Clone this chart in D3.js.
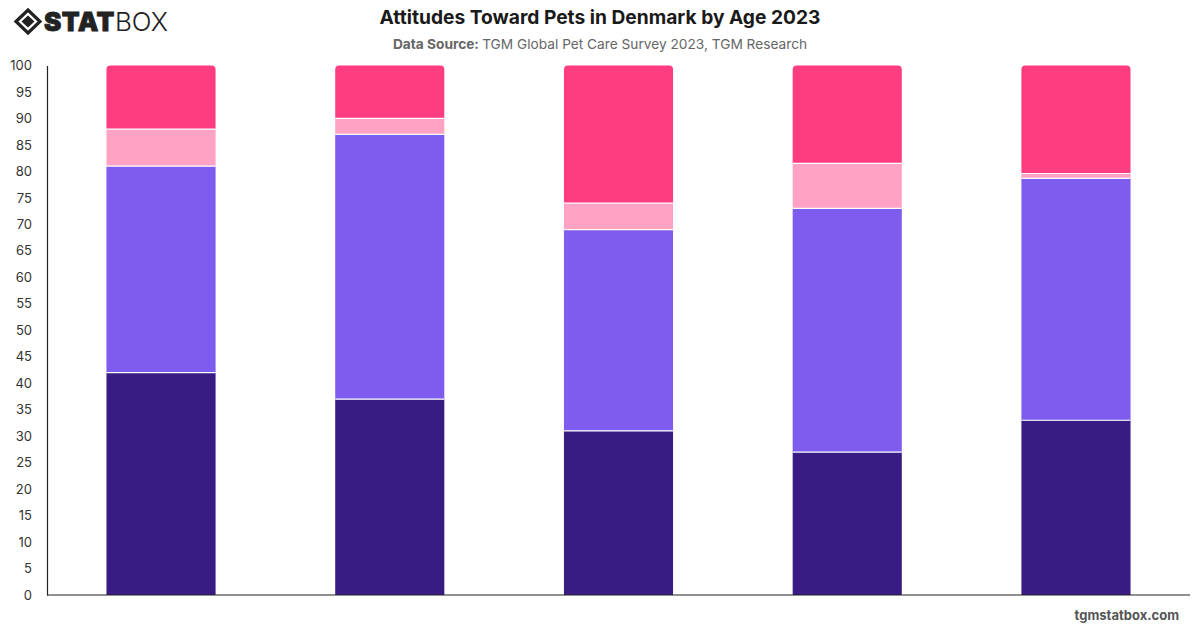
<html>
<head>
<title>Attitudes Toward Pets in Denmark by Age 2023</title>
<style>
  body { margin: 0; background: #fff; font-family: Inter, "Noto Sans", sans-serif; }
  svg { display: block; }
</style>
</head>
<body>
<script src="https://d3js.org/d3.v7.min.js"></script>
<script>
// age groups (no labels shown on the chart)
var categories = ["18-24", "25-34", "35-44", "45-54", "55+"];
var seriesNames = ["Series 1", "Series 2", "Series 3", "Series 4"];
var series1 = [42, 37, 31, 27, 33];
var series2 = [39, 50, 38, 46, 45.7];
var series3 = [7, 3, 5, 8.5, 0.9];
var series4 = [12, 10, 26, 18.5, 20.4];
var yTicks = [0, 5, 10, 15, 20, 25, 30, 35, 40, 45, 50, 55, 60, 65, 70, 75, 80, 85, 90, 95, 100];
var colors = ["#381b83", "#7e5cef", "#ffa2c3", "#fe3d80"];

var w = 1200, h = 628;
var margin = { top: 65.5, right: 10, bottom: 33, left: 47 };

var svg = d3.select("body").append("svg").attr("width", w).attr("height", h);

// rows for the stack
var rows = categories.map(function (c, i) {
    return { cat: c, s0: series1[i], s1: series2[i], s2: series3[i], s3: series4[i] };
});
var stack = d3.stack().keys(["s0", "s1", "s2", "s3"])(rows);

var x = d3.scaleBand().domain(categories)
    .range([margin.left, w - margin.right])
    .paddingInner(0.523).paddingOuter(0.26);
var y = d3.scaleLinear().domain([0, 100]).range([h - margin.bottom, margin.top]);

// bars
var layers = svg.append("g").selectAll("g").data(stack).enter().append("g")
    .attr("fill", function (d, i) { return colors[i]; });

layers.each(function (layer, li) {
    var g = d3.select(this);
    layer.forEach(function (d) {
        var x0 = x(d.data.cat), bw = x.bandwidth();
        var yTop = y(d[1]), yBot = y(d[0]);
        if (li === stack.length - 1) {
            // rounded top corners on last segment
            var r = 4;
            var p = "M" + x0 + "," + yBot +
                "V" + (yTop + r) +
                "Q" + x0 + "," + yTop + " " + (x0 + r) + "," + yTop +
                "H" + (x0 + bw - r) +
                "Q" + (x0 + bw) + "," + yTop + " " + (x0 + bw) + "," + (yTop + r) +
                "V" + yBot + "Z";
            g.append("path").attr("d", p);
        } else {
            g.append("rect")
                .attr("x", x0).attr("y", yTop)
                .attr("width", bw).attr("height", yBot - yTop);
        }
    });
});

// white separators between segments
var sepG = svg.append("g");
stack.slice(0, stack.length - 1).forEach(function (layer) {
    layer.forEach(function (d) {
        sepG.append("line")
            .attr("x1", x(d.data.cat)).attr("x2", x(d.data.cat) + x.bandwidth())
            .attr("y1", y(d[1])).attr("y2", y(d[1]))
            .attr("stroke", "#fff").attr("stroke-width", 1.2);
    });
});

// y axis
var yAxis = svg.append("g")
    .attr("transform", "translate(" + margin.left + ",0)")
    .call(d3.axisLeft(y).tickValues(yTicks).tickSize(0).tickPadding(15));
yAxis.select(".domain").attr("stroke", "#222").attr("stroke-width", 1.2);
yAxis.selectAll("text").attr("font-size", 13).attr("fill", "#333")
    .attr("font-family", "Inter, sans-serif");

// x axis line
svg.append("line")
    .attr("x1", margin.left).attr("x2", w - margin.right)
    .attr("y1", y(0)).attr("y2", y(0))
    .attr("stroke", "#222").attr("stroke-width", 1.2);

// title + subtitle
svg.append("text").attr("x", 600).attr("y", 24).attr("text-anchor", "middle")
    .attr("font-size", 19.2).attr("font-weight", 700).attr("fill", "#1a1a1a")
    .text("Attitudes Toward Pets in Denmark by Age 2023");
var sub = svg.append("text").attr("x", 600).attr("y", 49).attr("text-anchor", "middle")
    .attr("font-size", 13.7).attr("fill", "#666");
sub.append("tspan").attr("font-weight", 700).text("Data Source: ");
sub.append("tspan").text("TGM Global Pet Care Survey 2023, TGM Research");

// logo
var logo = svg.append("g");
logo.append("path").attr("d", "M16,21.5 L28,10 L40,21.5 L28,33 Z")
    .attr("fill", "none").attr("stroke", "#222").attr("stroke-width", 3.2);
logo.append("path").attr("d", "M21.5,21.5 L28,15.5 L34.5,21.5 L28,27.5 Z").attr("fill", "#222");
var lt = logo.append("text").attr("x", 44).attr("y", 31).attr("font-size", 26).attr("fill", "#222")
    .attr("font-family", "Inter, sans-serif");
lt.append("tspan").attr("font-weight", 900).attr("stroke", "#222").attr("stroke-width", 0.8)
    .attr("letter-spacing", "0.5").text("STAT");
lt.append("tspan").attr("font-weight", 300).text("BOX");

// watermark
svg.append("text").attr("x", 1179).attr("y", 620).attr("text-anchor", "end")
    .attr("font-size", 13).attr("font-weight", 700).attr("fill", "#555")
    .text("tgmstatbox.com");
</script>
</body>
</html>
